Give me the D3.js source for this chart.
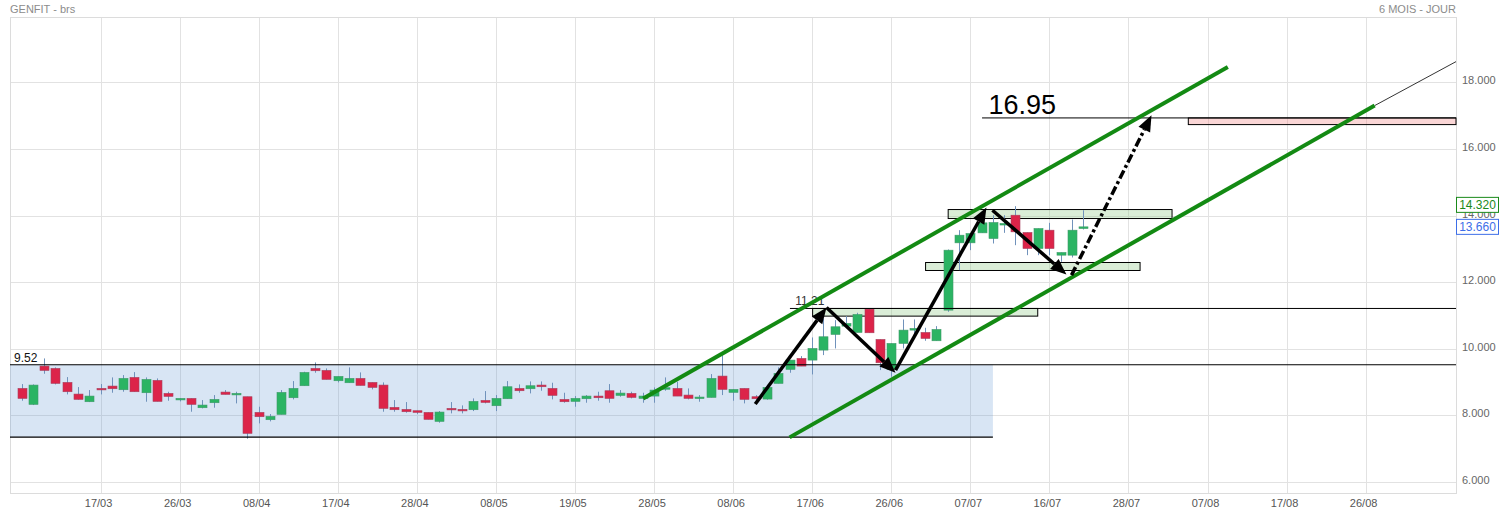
<!DOCTYPE html>
<html lang="fr">
<head>
<meta charset="utf-8">
<title>GENFIT - brs</title>
<script src="https://cdn.jsdelivr.net/npm/d3@7"></script>
<style>
  body { margin: 0; background: #fff; }
  svg text { font-family: "Liberation Sans", Arial, sans-serif; }
</style>
</head>
<body>
<div id="chart"></div>
<script>
// daily candles, index = trading day
var opens  = [8.81,8.33,9.48,9.41,8.99,8.64,8.41,8.81,8.88,8.77,9.14,8.68,9.05,8.66,8.51,8.51,8.23,8.38,8.70,8.66,
              8.56,8.09,7.87,8.03,8.53,8.89,9.41,9.35,9.04,8.98,9.11,8.99,8.91,8.24,8.18,8.14,8.09,7.82,8.21,8.18,
              8.17,8.45,8.29,8.50,8.81,8.80,8.91,8.81,8.48,8.42,8.50,8.58,8.74,8.60,8.66,8.51,8.58,8.80,8.81,8.61,
              8.54,8.54,9.18,8.69,8.81,8.56,8.49,8.96,9.38,9.71,9.66,9.96,10.43,10.68,10.49,11.19,10.28,9.38,10.16,10.56,
              10.49,10.24,11.16,13.18,13.18,13.48,13.31,13.72,14.01,13.49,13.01,13.56,12.81,12.81,13.61];
var highs  = [8.94,8.93,9.71,9.44,9.15,8.85,8.76,8.94,9.14,9.21,9.30,9.14,9.11,8.71,8.52,8.51,8.46,8.61,8.76,8.71,
              8.56,8.26,8.04,8.76,9.03,9.31,9.59,9.41,9.17,9.44,9.29,8.99,8.99,8.46,8.40,8.14,8.09,8.13,8.40,8.30,
              8.51,8.73,8.61,9.03,8.93,9.02,9.02,8.98,8.68,8.58,8.61,8.71,8.94,8.76,8.71,8.68,8.84,9.14,9.01,8.81,
              8.61,9.24,9.81,8.78,8.81,8.61,8.86,9.44,9.66,9.78,10.34,10.91,10.86,10.98,11.08,11.21,10.28,10.16,10.88,10.88,
              10.63,10.68,12.98,13.56,13.46,13.96,14.01,14.01,14.28,13.49,13.61,13.78,12.89,13.88,14.16];
var lows   = [8.44,8.31,9.25,8.93,8.63,8.47,8.40,8.63,8.68,8.71,8.71,8.41,8.42,8.44,8.42,8.11,8.21,8.23,8.63,8.36,
              7.30,7.76,7.82,8.03,8.48,8.89,9.28,9.08,8.99,8.98,8.90,8.78,8.11,8.11,8.08,8.04,7.88,7.78,8.06,8.06,
              8.13,8.36,8.13,8.50,8.68,8.66,8.74,8.48,8.38,8.26,8.38,8.44,8.38,8.56,8.51,8.38,8.38,8.74,8.58,8.48,
              8.41,8.54,8.61,8.44,8.36,8.35,8.47,8.96,9.28,9.48,9.23,9.81,10.01,10.68,10.49,10.48,9.36,9.16,10.01,10.44,
              10.24,10.24,11.11,12.36,12.96,13.48,13.16,13.48,13.11,12.81,12.81,12.81,12.61,12.74,13.58];
var closes = [8.51,8.91,9.35,8.96,8.71,8.48,8.58,8.77,8.80,9.11,8.71,9.08,8.42,8.57,8.51,8.33,8.31,8.48,8.63,8.66,
              7.46,7.96,7.97,8.69,8.81,9.29,9.34,9.08,9.17,9.11,8.90,8.84,8.21,8.17,8.11,8.09,7.88,8.10,8.17,8.14,
              8.42,8.39,8.51,8.86,8.74,8.89,8.86,8.60,8.41,8.51,8.58,8.53,8.51,8.67,8.54,8.58,8.76,8.83,8.58,8.51,
              8.55,9.11,8.78,8.78,8.48,8.50,8.84,9.26,9.66,9.48,10.01,10.36,10.66,10.76,11.03,10.48,9.58,10.16,10.56,10.61,
              10.31,10.58,12.96,13.41,13.46,13.78,13.79,13.76,13.51,13.01,13.61,13.01,12.89,13.56,13.66];

var tickIdx    = [7,14,21,28,35,42,49,56,63,70,77,84,91,98,105,112,119];
var tickLabels = ["17/03","26/03","08/04","17/04","28/04","08/05","19/05","28/05","08/06",
                  "17/06","26/06","07/07","16/07","28/07","07/08","17/08","26/08"];
var priceTicks = [6,8,10,12,14,16,18];

// drawings (index, price)
var rangeTop = 9.52, rangeBottom = 7.35, rangeEnd = 86;
var level1121 = 11.21, level1695 = 16.93;
var greenZones = [[70.04, 89.97, 10.98, 11.21], [82.04, 101.86, 13.91, 14.18], [80.04, 99.03, 12.35, 12.59]];
var redZone = [103.3, 127, 16.73, 16.93];
var channels = [[[55.04, 8.51], [106.8, 18.46]], [[68.0, 7.34], [119.8, 17.3]]];
var extension = [[119.8, 17.3], [127, 18.62]];
var arrows = [[[64.96, 8.34], [71.27, 11.24]], [[71.27, 11.24], [77.38, 9.28]],
              [[77.38, 9.36], [85.43, 14.24]], [[85.96, 14.16], [92.51, 12.23]]];
var dashArrow = [[92.96, 12.21], [100.04, 17.01]];

var W = 1501, H = 514;
var plotL = 10, plotR = 1456, plotT = 17, plotB = 493;

var svg = d3.select("#chart").append("svg").attr("width", W).attr("height", H);

var x = d3.scaleLinear().domain([-1.02, 127]).range([plotL, plotR]);
var y = d3.scaleLinear().domain([5.67, 19.96]).range([plotB, plotT]);

// grid
svg.selectAll("line.vg").data(tickIdx).enter().append("line")
  .attr("x1", d => Math.round(x(d)) + 0.5).attr("x2", d => Math.round(x(d)) + 0.5)
  .attr("y1", plotT).attr("y2", plotB).attr("stroke", "#e2e2e2");
svg.selectAll("line.hg").data(priceTicks).enter().append("line")
  .attr("x1", plotL).attr("x2", plotR)
  .attr("y1", d => Math.round(y(d)) + 0.5).attr("y2", d => Math.round(y(d)) + 0.5).attr("stroke", "#e2e2e2");
svg.append("rect").attr("x", plotL + 0.5).attr("y", plotT + 0.5)
  .attr("width", plotR - plotL).attr("height", plotB - plotT)
  .attr("fill", "none").attr("stroke", "#dcdcdc");

// titles
svg.append("text").attr("x", 10).attr("y", 13).attr("font-size", 11).attr("fill", "#8c8c8c").text("GENFIT - brs");
svg.append("text").attr("x", 1456).attr("y", 13).attr("font-size", 11).attr("fill", "#8c8c8c")
  .attr("text-anchor", "end").text("6 MOIS - JOUR");

// axes labels
svg.selectAll("text.yl").data(priceTicks).enter().append("text")
  .attr("x", 1462).attr("y", d => y(d) + 2).attr("font-size", 11).attr("fill", "#666")
  .text(d => d3.format(".3f")(d));
svg.selectAll("text.xl").data(tickIdx).enter().append("text")
  .attr("x", d => x(d) - 2).attr("y", 507).attr("font-size", 11).attr("fill", "#555")
  .attr("text-anchor", "middle").text((d, i) => tickLabels[i]);

// range box
svg.append("rect").attr("x", plotL).attr("y", y(rangeTop))
  .attr("width", x(rangeEnd) - plotL).attr("height", y(rangeBottom) - y(rangeTop))
  .attr("fill", "rgba(100,150,210,0.25)");

// zones
svg.selectAll("rect.gz").data(greenZones).enter().append("rect")
  .attr("x", d => x(d[0])).attr("y", d => y(d[3]))
  .attr("width", d => x(d[1]) - x(d[0])).attr("height", d => y(d[2]) - y(d[3]))
  .attr("fill", "rgba(140,200,130,0.32)").attr("stroke", "#000").attr("stroke-width", 1);
svg.append("rect").attr("x", x(redZone[0])).attr("y", y(redZone[3]))
  .attr("width", x(redZone[1]) - x(redZone[0])).attr("height", y(redZone[2]) - y(redZone[3]))
  .attr("fill", "rgba(240,120,120,0.3)").attr("stroke", "#000").attr("stroke-width", 1);

// candles
var idx = d3.range(closes.length);
var up = "#2bb463", dn = "#dc2449";
svg.selectAll("line.wick").data(idx).enter().append("line")
  .attr("x1", i => Math.round(x(i)) + 0.5).attr("x2", i => Math.round(x(i)) + 0.5)
  .attr("y1", i => y(highs[i])).attr("y2", i => y(lows[i]))
  .attr("stroke", "#7092bb").attr("stroke-width", 1);
svg.selectAll("rect.body").data(idx).enter().append("rect")
  .attr("x", i => Math.round(x(i)) - 4).attr("width", 9)
  .attr("y", i => y(Math.max(opens[i], closes[i])))
  .attr("height", i => Math.max(1.5, Math.abs(y(opens[i]) - y(closes[i]))))
  .attr("fill", i => closes[i] >= opens[i] ? up : dn)
  .attr("stroke", i => closes[i] >= opens[i] ? "#3f9a6a" : "#a8405e").attr("stroke-width", 0.6);

// horizontal levels
svg.append("line").attr("x1", plotL).attr("x2", plotR).attr("y1", y(rangeTop)).attr("y2", y(rangeTop))
  .attr("stroke", "#000").attr("stroke-width", 1.2);
svg.append("line").attr("x1", plotL).attr("x2", x(rangeEnd)).attr("y1", y(rangeBottom)).attr("y2", y(rangeBottom))
  .attr("stroke", "#000").attr("stroke-width", 1.2);
svg.append("line").attr("x1", x(68.03)).attr("x2", plotR).attr("y1", y(level1121)).attr("y2", y(level1121))
  .attr("stroke", "#000").attr("stroke-width", 1);
svg.append("line").attr("x1", x(85.04)).attr("x2", plotR).attr("y1", y(level1695)).attr("y2", y(level1695))
  .attr("stroke", "#000").attr("stroke-width", 1);
svg.append("text").attr("x", 14).attr("y", y(rangeTop) - 3).attr("font-size", 12).attr("fill", "#111").text("9.52");
svg.append("text").attr("x", x(68.5)).attr("y", y(level1121) - 3).attr("font-size", 12).attr("fill", "#333").text("11.21");
svg.append("text").attr("x", x(85.6)).attr("y", y(level1695) - 4).attr("font-size", 27).attr("fill", "#000").text("16.95");

// channel
var line = d3.line().x(d => x(d[0])).y(d => y(d[1]));
svg.append("path").attr("d", line(extension)).attr("stroke", "#000").attr("stroke-width", 0.8).attr("fill", "none");
svg.selectAll("path.ch").data(channels).enter().append("path")
  .attr("d", line).attr("stroke", "#138a13").attr("stroke-width", 4).attr("fill", "none");

// arrows
function drawArrow(a, dash) {
  var x0 = x(a[0][0]), y0 = y(a[0][1]), x1 = x(a[1][0]), y1 = y(a[1][1]);
  var ang = Math.atan2(y1 - y0, x1 - x0), L = 16, hw = 6.5;
  var bx = x1 - L * Math.cos(ang), by = y1 - L * Math.sin(ang);
  svg.append("line").attr("x1", x0).attr("y1", y0).attr("x2", bx).attr("y2", by)
    .attr("stroke", "#000").attr("stroke-width", 3.5).attr("stroke-dasharray", dash || null);
  var pts = [[x1, y1],
             [bx + hw * Math.sin(ang), by - hw * Math.cos(ang)],
             [bx - hw * Math.sin(ang), by + hw * Math.cos(ang)]];
  svg.append("polygon").attr("points", pts.map(p => p.join(",")).join(" ")).attr("fill", "#000");
}
arrows.forEach(a => drawArrow(a));
drawArrow(dashArrow, "9,3,3,3");

// last value tags
function tag(v, txt, col) {
  svg.append("rect").attr("x", 1456.5).attr("y", y(v) - 7.5).attr("width", 42).attr("height", 15)
    .attr("fill", "#fff").attr("stroke", col);
  svg.append("text").attr("x", 1477.5).attr("y", y(v) + 4.5).attr("text-anchor", "middle")
    .attr("font-size", 12).attr("fill", col).text(txt);
}
tag(14.32, "14.320", "#1a8a1a");
tag(13.66, "13.660", "#3d6ee8");
</script>
</body>
</html>
